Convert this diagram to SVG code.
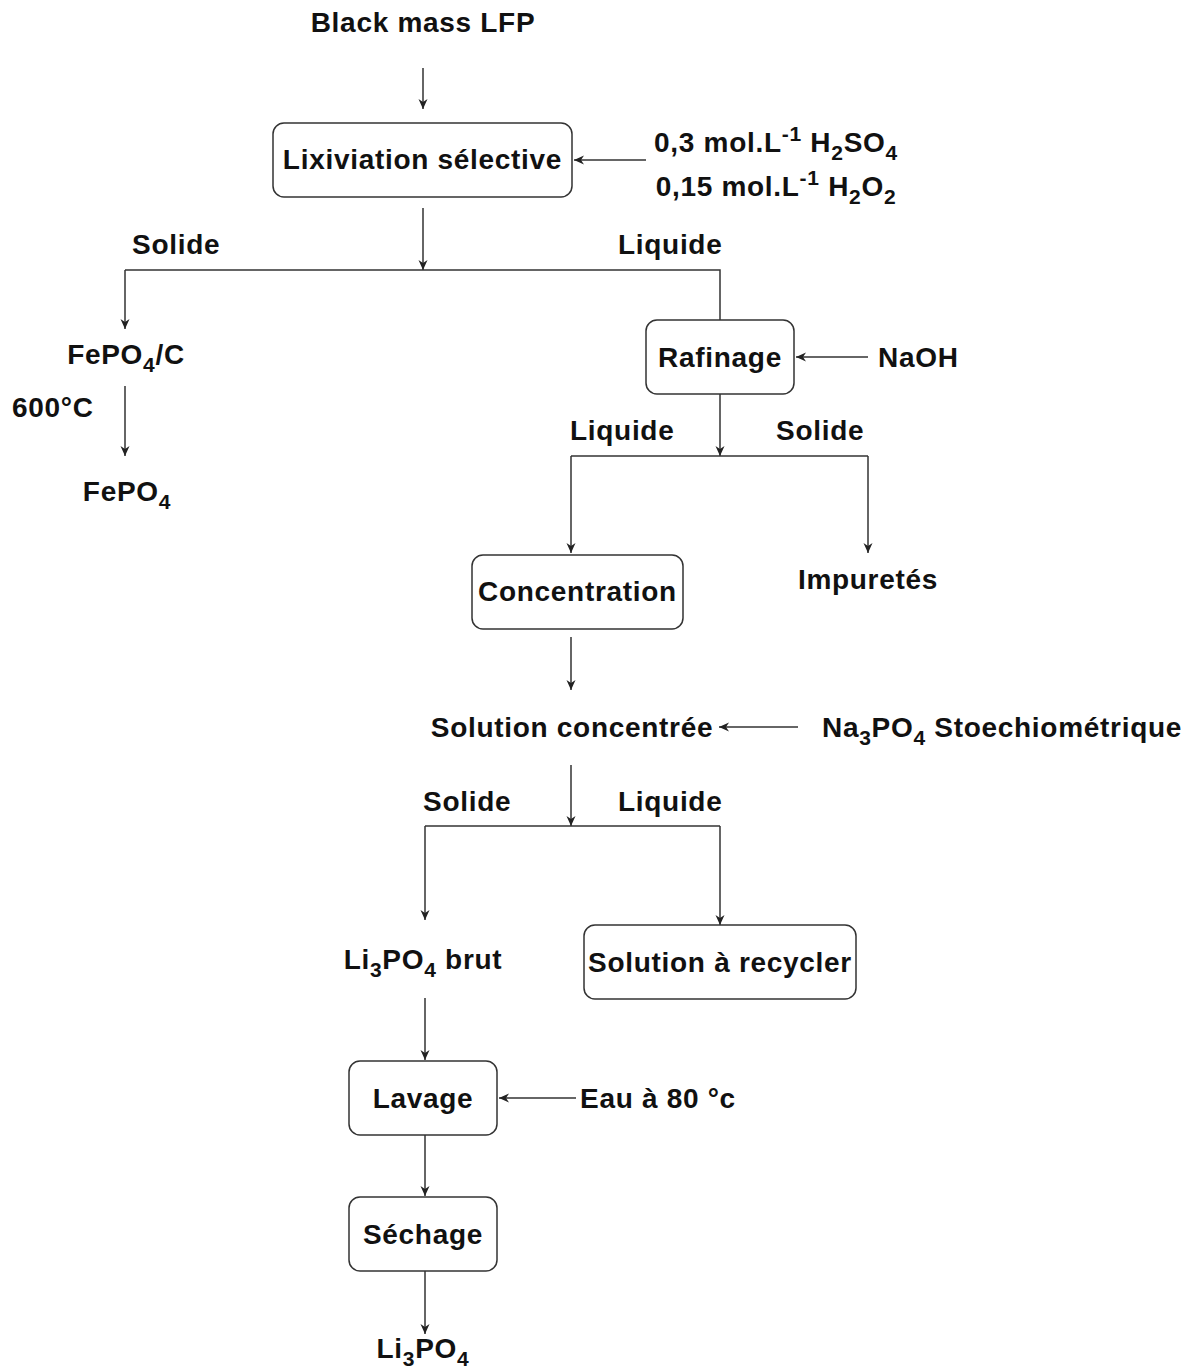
<svg xmlns="http://www.w3.org/2000/svg" width="1196" height="1371" viewBox="0 0 1196 1371">
<defs>
<marker id="ah" viewBox="0 0 10 10" refX="10" refY="5" markerWidth="10" markerHeight="10" markerUnits="userSpaceOnUse" orient="auto">
<path d="M0,0.5 L10,5 L0,9.5 L3,5 Z" fill="#222"/>
</marker>
<style>
text{font-family:"Liberation Sans",Arial,sans-serif;font-weight:bold;font-size:28px;fill:#111;letter-spacing:0.7px}
.m{text-anchor:middle}
.box{fill:#fff;stroke:#333;stroke-width:1.5}
.c line,.c path{stroke:#333;stroke-width:1.5;fill:none}
.sub{font-size:21px}
</style>
</defs>
<rect width="1196" height="1371" fill="#fff"/>
<g class="c" id="connectors">
<line x1="423" y1="68" x2="423" y2="109" marker-end="url(#ah)"/>
<line x1="646" y1="160" x2="574" y2="160" marker-end="url(#ah)"/>
<line x1="423" y1="208" x2="423" y2="270" marker-end="url(#ah)"/>
<path d="M125,270 L720,270 L720,320"/>
<line x1="125" y1="270" x2="125" y2="329" marker-end="url(#ah)"/>
<line x1="125" y1="386" x2="125" y2="456" marker-end="url(#ah)"/>
<line x1="868" y1="357" x2="796" y2="357" marker-end="url(#ah)"/>
<line x1="720" y1="394" x2="720" y2="456" marker-end="url(#ah)"/>
<path d="M571,456 L868,456"/>
<line x1="571" y1="456" x2="571" y2="553" marker-end="url(#ah)"/>
<line x1="868" y1="456" x2="868" y2="553" marker-end="url(#ah)"/>
<line x1="571" y1="637" x2="571" y2="690" marker-end="url(#ah)"/>
<line x1="798" y1="727" x2="719" y2="727" marker-end="url(#ah)"/>
<line x1="571" y1="765" x2="571" y2="826" marker-end="url(#ah)"/>
<path d="M425,826 L720,826"/>
<line x1="425" y1="826" x2="425" y2="920" marker-end="url(#ah)"/>
<line x1="720" y1="826" x2="720" y2="925" marker-end="url(#ah)"/>
<line x1="425" y1="998" x2="425" y2="1060" marker-end="url(#ah)"/>
<line x1="576" y1="1098" x2="499" y2="1098" marker-end="url(#ah)"/>
<line x1="425" y1="1135" x2="425" y2="1196" marker-end="url(#ah)"/>
<line x1="425" y1="1271" x2="425" y2="1334" marker-end="url(#ah)"/>
</g>
<g id="black-mass"><text class="m" x="423" y="32">Black mass LFP</text></g>
<g id="lixiviation"><rect class="box" x="273" y="123" width="299" height="74" rx="11"/><text class="m" x="422.5" y="169">Lixiviation sélective</text></g>
<g id="reagents-acid"><text class="m" x="776" y="152">0,3 mol.L<tspan class="sub" dy="-11">-1</tspan><tspan dy="11"> H</tspan><tspan class="sub" dy="8">2</tspan><tspan dy="-8">SO</tspan><tspan class="sub" dy="8">4</tspan></text>
<text class="m" x="776" y="196">0,15 mol.L<tspan class="sub" dy="-11">-1</tspan><tspan dy="11"> H</tspan><tspan class="sub" dy="8">2</tspan><tspan dy="-8">O</tspan><tspan class="sub" dy="8">2</tspan></text></g>
<g id="label-solide-1"><text x="132" y="254">Solide</text></g>
<g id="label-liquide-1"><text x="618" y="254">Liquide</text></g>
<g id="fepo4c"><text class="m" x="126" y="364">FePO<tspan class="sub" dy="8">4</tspan><tspan dy="-8">/C</tspan></text></g>
<g id="label-600"><text x="12" y="417">600°C</text></g>
<g id="fepo4"><text class="m" x="127" y="501">FePO<tspan class="sub" dy="8">4</tspan></text></g>
<g id="rafinage"><rect class="box" x="646" y="320" width="148" height="74" rx="11"/><text class="m" x="720" y="367">Rafinage</text></g>
<g id="naoh"><text x="878" y="367">NaOH</text></g>
<g id="label-liquide-2"><text x="570" y="440">Liquide</text></g>
<g id="label-solide-2"><text x="776" y="440">Solide</text></g>
<g id="concentration"><rect class="box" x="472" y="555" width="211" height="74" rx="11"/><text class="m" x="577.5" y="601">Concentration</text></g>
<g id="impuretes"><text class="m" x="868" y="589">Impuretés</text></g>
<g id="solution-concentree"><text class="m" x="572" y="737">Solution concentrée</text></g>
<g id="na3po4"><text x="822" y="737">Na<tspan class="sub" dy="8">3</tspan><tspan dy="-8">PO</tspan><tspan class="sub" dy="8">4</tspan><tspan dy="-8"> Stoechiométrique</tspan></text></g>
<g id="label-solide-3"><text x="423" y="811">Solide</text></g>
<g id="label-liquide-3"><text x="618" y="811">Liquide</text></g>
<g id="li3po4-brut"><text class="m" x="423" y="969">Li<tspan class="sub" dy="8">3</tspan><tspan dy="-8">PO</tspan><tspan class="sub" dy="8">4</tspan><tspan dy="-8"> brut</tspan></text></g>
<g id="solution-recycler"><rect class="box" x="584" y="925" width="272" height="74" rx="11"/><text class="m" x="720" y="972">Solution à recycler</text></g>
<g id="lavage"><rect class="box" x="349" y="1061" width="148" height="74" rx="11"/><text class="m" x="423" y="1108">Lavage</text></g>
<g id="eau"><text x="580" y="1108">Eau à 80 °c</text></g>
<g id="sechage"><rect class="box" x="349" y="1197" width="148" height="74" rx="11"/><text class="m" x="423" y="1244">Séchage</text></g>
<g id="li3po4"><text class="m" x="423" y="1358">Li<tspan class="sub" dy="8">3</tspan><tspan dy="-8">PO</tspan><tspan class="sub" dy="8">4</tspan></text></g>
</svg>
